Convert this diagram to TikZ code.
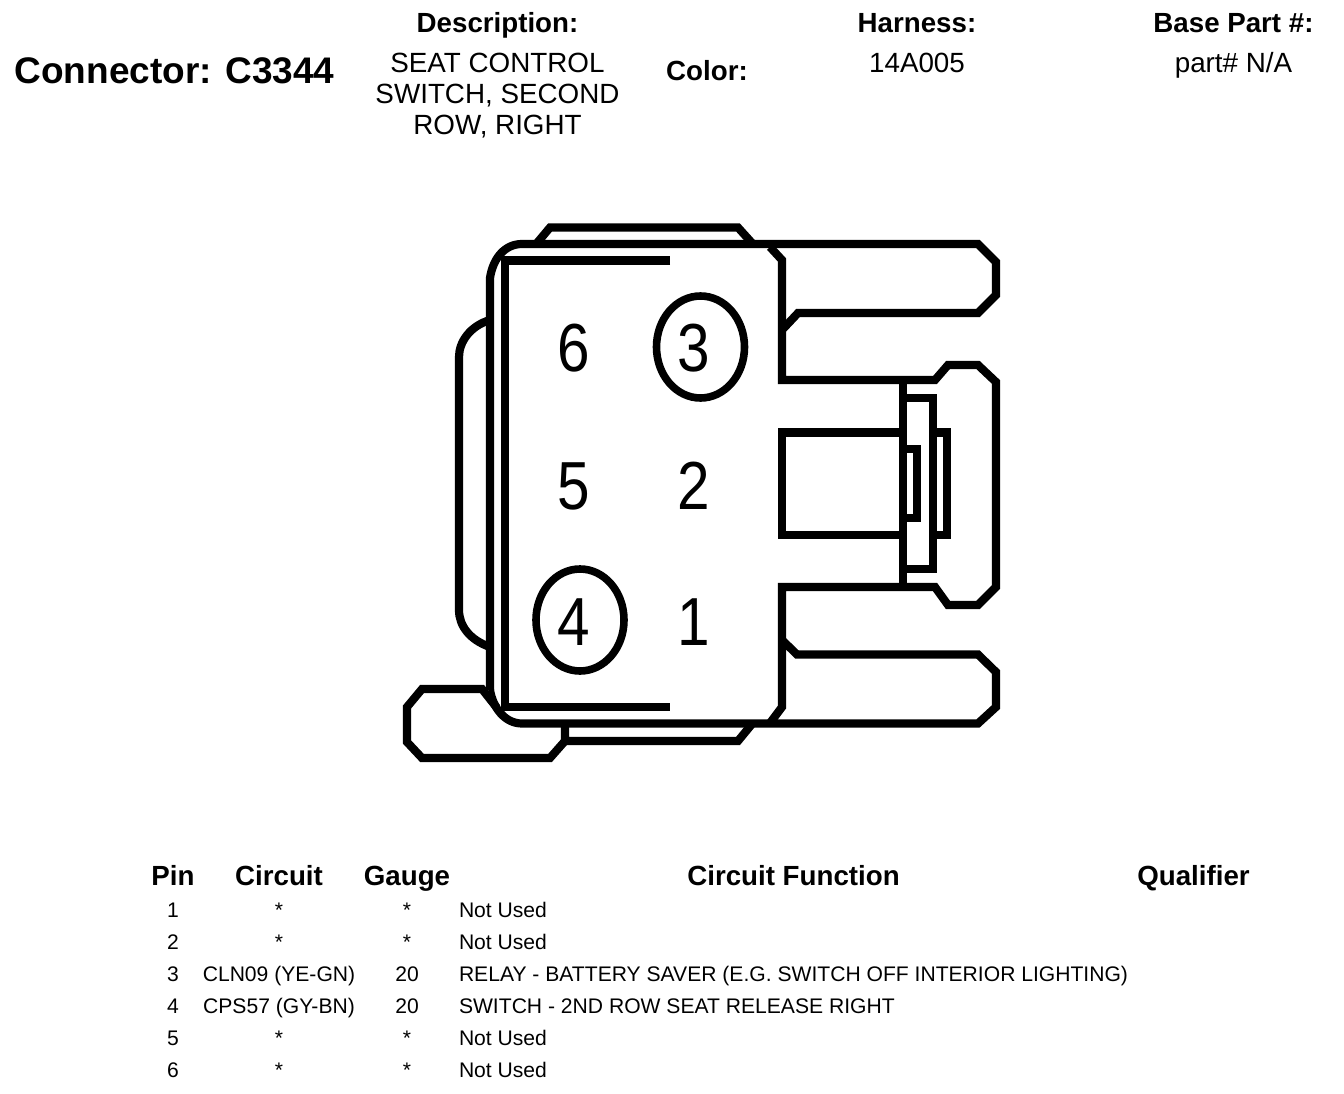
\documentclass[tikz,border=0pt]{standalone}
\usepackage{fontspec}
\setmainfont{Liberation Sans}
\newfontfamily\pinfont[FakeStretch=0.86]{Liberation Sans}
\tikzset{
  wire/.style={line width=8.2pt,line cap=butt,line join=miter,black},
  ring/.style={line width=7.6pt,black},
  txt/.style={inner sep=0pt,outer sep=0pt,anchor=base},
  ltxt/.style={inner sep=0pt,outer sep=0pt,anchor=base west},
  title/.style={txt,font=\fontsize{37}{40}\selectfont\bfseries},
  head/.style={txt,font=\fontsize{27.7}{30}\selectfont\bfseries},
  body/.style={txt,font=\fontsize{27.8}{31}\selectfont},
  cell/.style={txt,font=\fontsize{21.1}{24}\selectfont},
  lcell/.style={ltxt,font=\fontsize{21.1}{24}\selectfont},
  pinnum/.style={inner sep=0pt,outer sep=0pt,font=\fontsize{68}{70}\pinfont},
}
\begin{document}
\begin{tikzpicture}[x=1pt,y=-1pt]
\useasboundingbox (0,0) rectangle (1344,1094);
\fill[white] (0,0) rectangle (1344,1094);
% header
\node[title,anchor=base west] (conn) at (14.5,84) {Connector: C3344};
\node[head] (deschead) at (497.5,32.5) {Description:};
\node[body] (d1) at (497.5,73) {SEAT CONTROL};
\node[body] (d2) at (497.5,104) {SWITCH, SECOND};
\node[body] (d3) at (497.5,135) {ROW, RIGHT};
\node[head] (colorhead) at (707,80.5) {Color:};
\node[head] (harnesshead) at (917,32.5) {Harness:};
\node[body] (harness) at (917,73) {14A005};
\node[head] (basehead) at (1233.5,32.5) {Base Part \#:};
\node[body] (base) at (1233.5,73) {part\# N/A};
% connector outline
\draw[wire] (537,243) -- (550,227.5) -- (738,227.5) -- (752,243);
\draw[wire] (670,260.5) -- (505,260.5) -- (505,707) -- (670,707);
\draw[wire] (490,690) -- (490,278) .. controls (493,258) and (505,244) .. (522,244)
  -- (978,244) -- (996,262) -- (996,295) -- (978,313) -- (798,313) -- (782,330);
\draw[wire] (770,247) -- (782,260) -- (782,380) -- (935,380) -- (948,365) -- (978,365)
  -- (996,382) -- (996,587) -- (978,605) -- (948,605) -- (935,587) -- (782,587)
  -- (782,707) -- (770,723);
\draw[wire] (782,640) -- (797,654.5) -- (978,654.5) -- (996,672) -- (996,707) -- (978,723.5)
  -- (522,723.5) .. controls (505,723.5) and (493,708) .. (490,690);
\draw[wire] (490,320) .. controls (470,326) and (459,342) .. (459,357) -- (459,610)
  .. controls (459,626) and (470,640) .. (490,647);
\draw[wire] (565,724) -- (565,741) -- (738,741) -- (752,724);
\draw[wire] (565,741) -- (550,758) -- (422,758) -- (407,742) -- (407,707) -- (422,689)
  -- (482,689) -- (497,708);
% latch
\draw[wire] (903,380) -- (903,587);
\draw[wire] (903,398) -- (933,398) -- (933,569) -- (903,569);
\draw[wire] (903,449) -- (917,449) -- (917,518) -- (903,518);
\draw[wire] (933,432.5) -- (947,432.5) -- (947,535) -- (933,535);
\draw[wire] (903,432.5) -- (782,432.5) -- (782,535) -- (903,535);
% pins
\draw[ring] (700.5,347) ellipse [x radius=44,y radius=51];
\draw[ring] (580,620) ellipse [x radius=44,y radius=51];
\node[pinnum] (p6) at (574,348) {6};
\node[pinnum] (p3) at (694,348) {3};
\node[pinnum] (p5) at (574,486) {5};
\node[pinnum] (p2) at (694,486) {2};
\node[pinnum] (p4) at (574,622) {4};
\node[pinnum] (p1) at (694,622) {1};
% table
\node[head] (hpin) at (173,885) {Pin};
\node[head] (hcir) at (279,885) {Circuit};
\node[head] (hgau) at (407,885) {Gauge};
\node[head] (hfun) at (793.5,885) {Circuit Function};
\node[head] (hqua) at (1193.5,885) {Qualifier};
\node[cell] (a1) at (173,917) {1};
\node[cell] (b1) at (279,917) {*};
\node[cell] (c1) at (407,917) {*};
\node[lcell] (f1) at (459,917) {Not Used};
\node[cell] (a2) at (173,949) {2};
\node[cell] (b2) at (279,949) {*};
\node[cell] (c2) at (407,949) {*};
\node[lcell] (f2) at (459,949) {Not Used};
\node[cell] (a3) at (173,981) {3};
\node[cell] (b3) at (279,981) {CLN09 (YE-GN)};
\node[cell] (c3) at (407,981) {20};
\node[lcell] (f3) at (459,981) {RELAY - BATTERY SAVER (E.G. SWITCH OFF INTERIOR LIGHTING)};
\node[cell] (a4) at (173,1013) {4};
\node[cell] (b4) at (279,1013) {CPS57 (GY-BN)};
\node[cell] (c4) at (407,1013) {20};
\node[lcell] (f4) at (459,1013) {SWITCH - 2ND ROW SEAT RELEASE RIGHT};
\node[cell] (a5) at (173,1045) {5};
\node[cell] (b5) at (279,1045) {*};
\node[cell] (c5) at (407,1045) {*};
\node[lcell] (f5) at (459,1045) {Not Used};
\node[cell] (a6) at (173,1077) {6};
\node[cell] (b6) at (279,1077) {*};
\node[cell] (c6) at (407,1077) {*};
\node[lcell] (f6) at (459,1077) {Not Used};
\end{tikzpicture}
\end{document}
